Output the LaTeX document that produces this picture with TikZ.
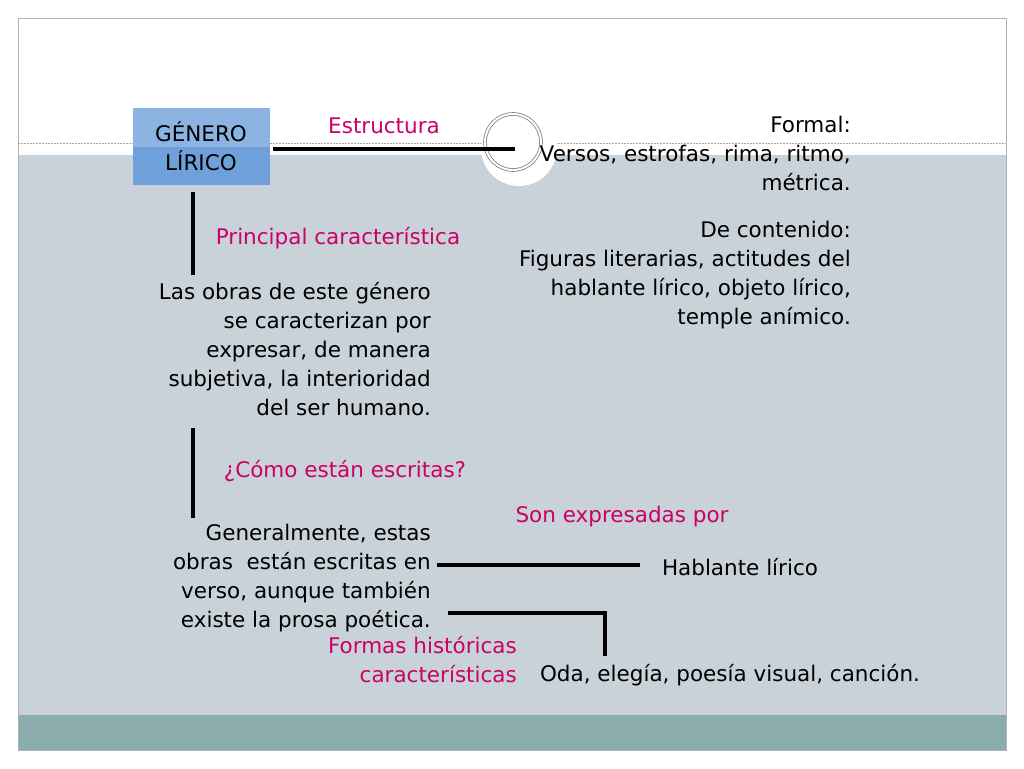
\documentclass[tikz,border=0pt]{standalone}
\usepackage{fontspec}
\setmainfont{DejaVu Sans}
\usetikzlibrary{positioning}
\definecolor{slidebg}{HTML}{C8D2D8}
\definecolor{slidebar}{HTML}{8AACAC}
\definecolor{boxblue}{HTML}{6FA0DA}
\definecolor{pinktxt}{HTML}{CC0066}
\tikzset{
  body/.style={font=\fontsize{21.5}{29}\selectfont,align=right,inner sep=0pt},
  label/.style={font=\fontsize{21.5}{29}\selectfont,text=pinktxt,inner sep=0pt},
  link/.style={line width=4pt,black},
}
\begin{document}
\begin{tikzpicture}[x=1pt,y=-1pt]
    \useasboundingbox (0,0) rectangle (1024,768);
    \fill[white] (0,0) rectangle (1024,768);
    \fill[slidebg] (18,155) rectangle (1006,715);
    \fill[slidebar] (18,715) rectangle (1006,750);
    \draw[gray!60] (18,18) rectangle (1006,750);
    \draw[gray!70,dashed,dash pattern=on 2pt off 1pt] (18,143) -- (1006,143);
    \fill[white] (519,148) circle (38);
    \draw[gray,double=white,double distance=2pt,thick] (513,142) circle (28);
    % title box
    \fill[boxblue!80!white] (133,108) rectangle (270,147);
    \fill[boxblue] (133,147) rectangle (270,185);
    \node[body,align=center] (genero) at (201,146) {GÉNERO\\LÍRICO};
    \coordinate (ring) at (515,149);
    \draw[link] (273,149) -- (ring);
    \node[label] (estructura) at (384,126) {Estructura};
    \node[body,anchor=north east] (formal) at (851,116)
      {Formal:\\Versos, estrofas, rima, ritmo,\\métrica.};
    \node[body,anchor=north east] (contenido) at (851,221)
      {De contenido:\\Figuras literarias, actitudes del\\hablante lírico, objeto lírico,\\temple anímico.};
    % characteristic
    \draw[link] (193,192) -- (193,275);
    \node[label] (principal) at (338,238) {Principal característica};
    \node[body,anchor=north east] (obras) at (431,282)
      {Las obras de este género\\se caracterizan por\\expresar, de manera\\subjetiva, la interioridad\\del ser humano.};
    % writing
    \draw[link] (193,428) -- (193,518);
    \node[label] (como) at (345,471) {¿Cómo están escritas?};
    \node[body,anchor=north east] (verso) at (431,524)
      {Generalmente, estas\\obras \ están escritas en\\verso, aunque también\\existe la prosa poética.};
    \node[label] (son) at (622,517) {Son expresadas por};
    \node[body] (hablante) at (740,567) {Hablante lírico};
    \draw[link] (437,565) -- (640,565);
    \draw[link] (448,613) -- (605,613) -- (605,656);
    \node[label,align=right,anchor=north east] (formas) at (517,636)
      {Formas históricas\\características};
    \node[body] (oda) at (730,675) {Oda, elegía, poesía visual, canción.};
\end{tikzpicture}
\end{document}
